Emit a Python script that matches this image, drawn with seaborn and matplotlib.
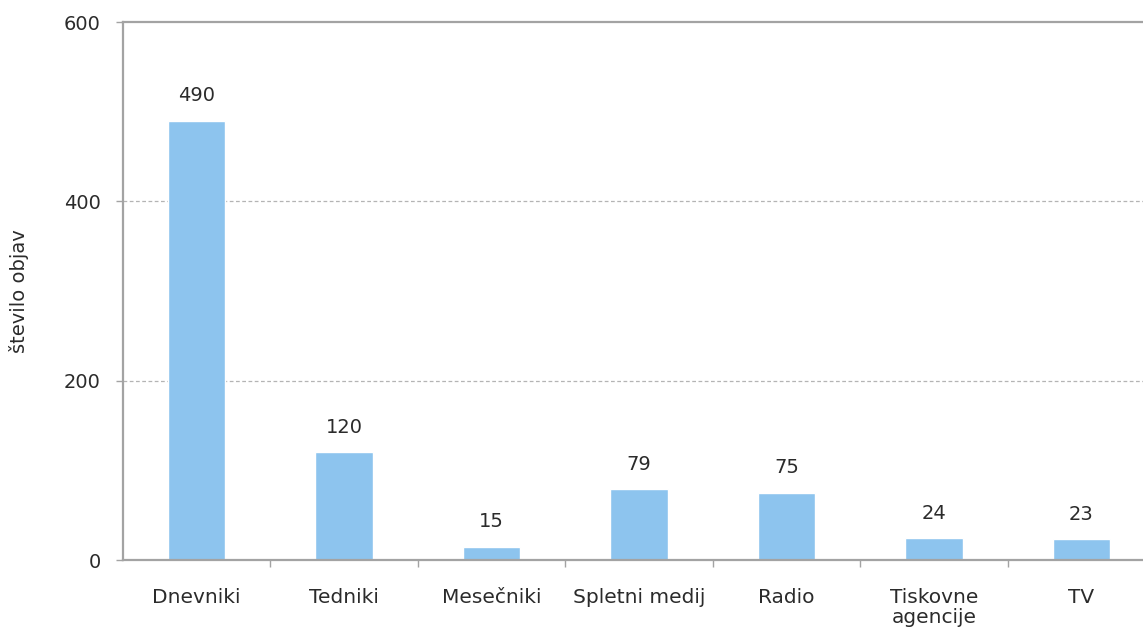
import matplotlib
matplotlib.use("Agg")
import matplotlib.pyplot as plt
import seaborn as sns
import pandas as pd
import numpy as np

categories = ["Dnevniki", "Tedniki", "Mesečniki", "Spletni medij", "Radio",
              "Tiskovne\nagencije", "TV"]
counts = [490, 120, 15, 79, 75, 24, 23]
y_ticks = [0, 200, 400, 600]

df = pd.DataFrame({"kategorija": categories, "objave": counts})

sns.set_theme(style="white")
plt.rcParams["font.family"] = ["DejaVu Sans"]

fig = plt.figure(figsize=(11.43, 6.31), dpi=100)
ax = fig.add_axes([0.1076, 0.1125, 0.903, 0.8526])

text_color = "#2b2b2b"
bar_color = "#8DC4EE"
sns.barplot(data=df, x="kategorija", y="objave", color=bar_color,
            width=0.39, saturation=1, ax=ax)

for cont in ax.containers:
    ax.bar_label(cont, labels=[str(v) for v in counts], padding=11,
                 fontsize=14, color=text_color)

ax.set_ylim(0, 600)
ax.set_xlim(-0.5, len(categories) - 0.5)
ax.set_yticks(y_ticks)
ax.set_yticklabels([str(t) for t in y_ticks], fontsize=14, color=text_color)
ax.set_xticks(range(len(categories)))
ax.set_xticklabels(categories, fontsize=14.5, color=text_color, linespacing=1.1)
ax.set_xlabel("")
ax.set_ylabel("število objav", fontsize=14, color=text_color)
ax.yaxis.set_label_coords(-0.091, 0.5)

# dashed gridlines between the bottom and top frame lines
for t in y_ticks[1:-1]:
    ax.axhline(t, color="#b4b4b4", linestyle=(0, (3, 2)), linewidth=0.9, zorder=0)

spine_color = "#a3a3a3"
for side in ["left", "bottom", "top"]:
    ax.spines[side].set_visible(True)
    ax.spines[side].set_color(spine_color)
    ax.spines[side].set_linewidth(1.6)
ax.spines["right"].set_visible(False)

# tick marks sit between categories on x, outward on y
ax.tick_params(axis="x", which="major", length=0, pad=20)
ax.set_xticks(np.arange(0.5, len(categories) - 0.5, 1.0), minor=True)
ax.tick_params(axis="x", which="minor", length=5, width=1, color=spine_color,
               direction="out", bottom=True)
ax.tick_params(axis="y", which="major", length=5, width=1, color=spine_color,
               direction="out", left=True, pad=11)

fig.savefig("out.png", dpi=100, facecolor="white")
